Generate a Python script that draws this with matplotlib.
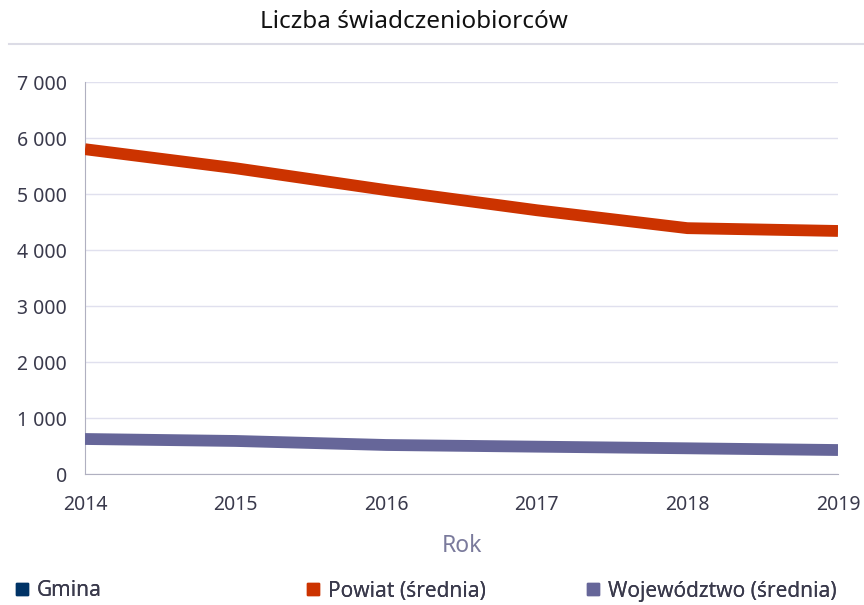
import matplotlib.pyplot as plt
from matplotlib.lines import Line2D
from matplotlib.ticker import FuncFormatter

plt.rcParams['font.family'] = ['Noto Sans', 'DejaVu Sans']

lata = [2014, 2015, 2016, 2017, 2018, 2019]
powiat = [5800, 5460, 5070, 4710, 4390, 4340]
wojewodztwo = [625, 590, 518, 488, 459, 428]
seria_nazwy = ['Gmina', 'Powiat (średnia)', 'Województwo (średnia)']
kolory = ['#003366', '#cc3300', '#666699']

fig = plt.figure(figsize=(8.64, 6.05), dpi=100)
ax = fig.add_axes([85/864, 1 - 474/605, (838-85)/864, (474-82)/605])

ax.plot(lata, powiat, color=kolory[1], lw=8.5, solid_capstyle='butt', zorder=3)
ax.plot(lata, wojewodztwo, color=kolory[2], lw=8.5, solid_capstyle='butt', zorder=3)

ax.set_xlim(2014, 2019)
ax.set_ylim(0, 7000)
ax.set_yticks(range(0, 7001, 1000))
ax.set_xticks(lata)
ax.yaxis.set_major_formatter(FuncFormatter(lambda v, p: f'{int(v):,}'.replace(',', ' ')))
ax.grid(axis='y', color='#e0e0ee', lw=1)
ax.set_axisbelow(True)
for s in ['top', 'right']:
    ax.spines[s].set_visible(False)
ax.spines['left'].set_color('#b0b0c0')
ax.spines['bottom'].set_color('#b0b0c0')
ax.tick_params(length=0, labelsize=14, labelcolor='#3a3a4c')
ax.tick_params(axis='x', pad=15)
ax.tick_params(axis='y', pad=13)
ax.set_xlabel('Rok', color='#7a7a9c', fontsize=16.5, labelpad=14)

fig.text(414/864, 1 - 22/605, 'Liczba świadczeniobiorców', ha='center', va='center',
         fontsize=17.5, color='#111111')
fig.add_artist(Line2D([0.01, 1], [1 - 44/605] * 2, color='#dcdce6', lw=1.5))

x_leg = [14/864, 305/864, 585/864]
for nazwa, kol, x0 in zip(seria_nazwy, kolory, x_leg):
    h = Line2D([], [], marker='s', color=kol, ls='none', markersize=9)
    lg = fig.legend([h], [nazwa], loc='center left', bbox_to_anchor=(x0, 1 - 591/605),
                    frameon=False, fontsize=15, handletextpad=0.3,
                    borderaxespad=0, borderpad=0, handlelength=0.8)
    for t in lg.get_texts():
        t.set_color('#3a3a4c')
    fig.add_artist(lg)

fig.savefig('out.png', dpi=100)
